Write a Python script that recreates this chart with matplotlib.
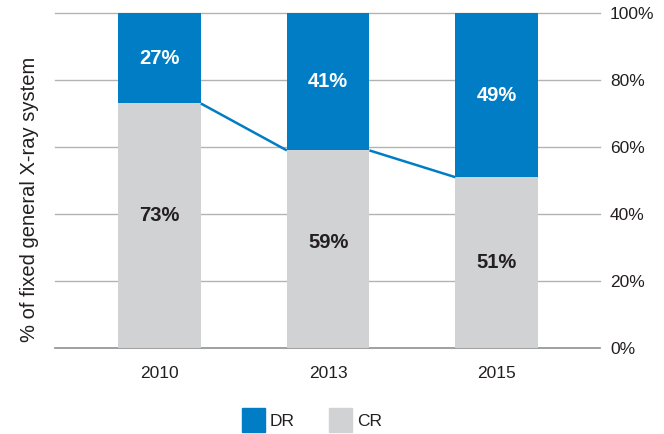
import matplotlib
matplotlib.use("Agg")
import matplotlib.pyplot as plt
from matplotlib.patches import Patch

plt.rcParams["font.family"] = ["Liberation Sans", "DejaVu Sans"]

years = ["2010", "2013", "2015"]
cr = [73, 59, 51]
dr = [27, 41, 49]
y_ticks = [0, 20, 40, 60, 80, 100]

blue = "#007dc5"
grey = "#d1d2d4"
text_col = "#231f20"

fig = plt.figure(figsize=(6.64, 4.34), dpi=100)
ax = fig.add_axes([0.083, 0.198, 0.821, 0.772])

x = list(range(len(years)))
width = 0.49

for yv in y_ticks:
    ax.axhline(yv, color="#8f8f8f" if yv == 0 else "#b3b3b3", lw=1.2 if yv == 0 else 1.0,
               zorder=0, clip_on=False)

ax.bar(x, cr, width=width, color=grey, zorder=2)
ax.bar(x, dr, width=width, bottom=cr, color=blue, zorder=2)

# connecting line between CR bar tops
for i in range(len(x) - 1):
    ax.plot([x[i] + width / 2, x[i + 1] - width / 2], [cr[i], cr[i + 1]],
            color=blue, lw=1.8, zorder=3, solid_capstyle="butt")

cr_shift = [3, 2, 0]
for i in x:
    ax.text(i, cr[i] + dr[i] / 2, f"{dr[i]}%", ha="center", va="center",
            color="white", fontsize=14.5, fontweight="bold")
    ax.text(i, cr[i] / 2 + cr_shift[i], f"{cr[i]}%", ha="center", va="center",
            color=text_col, fontsize=14.5, fontweight="bold")

ax.set_xlim(-0.62, 2.615)
ax.set_ylim(0, 100)
ax.set_xticks(x)
ax.set_xticklabels(years, fontsize=12.5, color=text_col)
ax.yaxis.tick_right()
ax.set_yticks(y_ticks)
ax.set_yticklabels([f"{v}%" for v in y_ticks], fontsize=12.5, color=text_col)
ax.tick_params(axis="both", length=0)
ax.tick_params(axis="x", pad=13)
ax.tick_params(axis="y", pad=7)
for s in ax.spines.values():
    s.set_visible(False)

fig.text(0.045, 0.54, "% of fixed general X-ray system", rotation=90,
         ha="center", va="center", fontsize=14.5, color=text_col)

handles = [Patch(color=blue, label="DR"), Patch(color=grey, label="CR")]
fig.legend(handles=handles, loc="center", bbox_to_anchor=(0.47, 0.032), ncol=2,
           frameon=False, fontsize=12.5, handlelength=1.3, handleheight=1.75,
           handletextpad=0.3, columnspacing=2.0, labelcolor=text_col)

fig.savefig("out.png", dpi=100)
